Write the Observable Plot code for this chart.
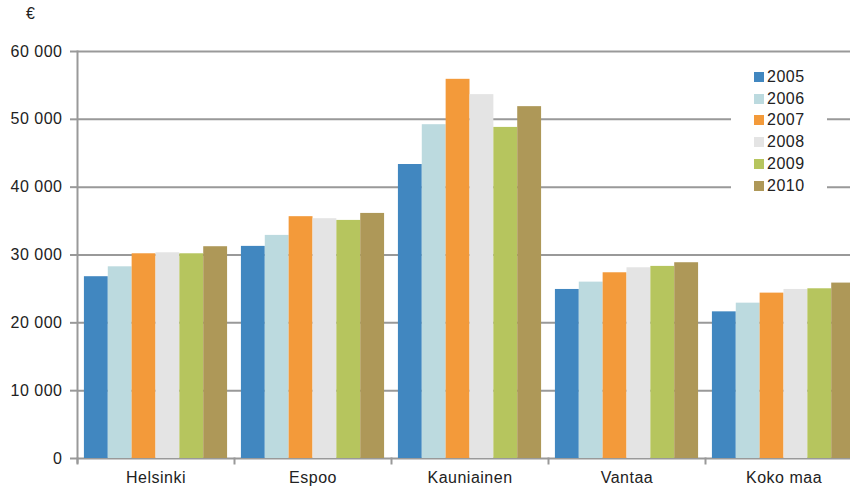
<!DOCTYPE html>
<html>
<head>
<meta charset="utf-8">
<script src="https://cdn.jsdelivr.net/npm/d3@7"></script>
<script src="https://cdn.jsdelivr.net/npm/@observablehq/plot@0.6"></script>
<style>
  html, body { margin: 0; padding: 0; background: #fff; overflow: hidden; }
  #wrap { position: relative; width: 850px; height: 486px; overflow: hidden; font-family: "Liberation Sans", Arial, sans-serif; }
  #euro { position: absolute; left: 26px; top: 5px; font-size: 16px; color: #222; }
  #legend { position: absolute; left: 731px; top: 65px; width: 96px; height: 132px; background: #fff; }
  .row { position: absolute; left: 0; height: 20px; font-size: 16px; letter-spacing: 0.5px; color: #222; display: flex; align-items: center; }
  .sw { width: 10px; height: 10px; margin-left: 23px; margin-right: 3px; }
</style>
</head>
<body>
<div id="wrap">
  <div id="chart"></div>
  <div id="euro">€</div>
  <div id="legend"></div>
</div>
<script>
const cities = ["Helsinki", "Espoo", "Kauniainen", "Vantaa", "Koko maa"];
const years = ["2005", "2006", "2007", "2008", "2009", "2010"];
const v2005 = [26800, 31270, 43340, 24920, 21620];
const v2006 = [28260, 32890, 49210, 26000, 22900];
const v2007 = [30180, 35650, 55900, 27380, 24380];
const v2008 = [30330, 35350, 53640, 28120, 24920];
const v2009 = [30180, 35100, 48810, 28320, 25020];
const v2010 = [31220, 36130, 51870, 28860, 25860];
const colors = ["#4187c0", "#bcdadf", "#f39a3a", "#e4e4e4", "#b6c55e", "#ae9858"];
const yTicks = [0, 10000, 20000, 30000, 40000, 50000, 60000];

const series = [v2005, v2006, v2007, v2008, v2009, v2010];
const data = cities.flatMap((c, i) => years.map((y, j) => ({city: c, year: y, value: series[j][i]})));

const fmt = d => d3.format(",")(d).replace(/,/g, " ");
const gridColor = "#999999";

const chart = Plot.plot({
  width: 862,
  height: 486,
  marginLeft: 77,
  marginRight: 0,
  marginTop: 51,
  marginBottom: 28,
  style: {maxWidth: "none", fontFamily: "Liberation Sans, Arial, sans-serif", fontSize: "16px", letterSpacing: "0.5px", color: "#222", background: "#fff"},
  fx: {domain: cities, padding: 0, round: false, label: null},
  x: {domain: years, paddingInner: 0, paddingOuter: 0.29, round: false, axis: null},
  y: {domain: [0, 60000], axis: null},
  color: {domain: years, range: colors},
  marks: [
    Plot.ruleY(yTicks, {stroke: gridColor, strokeWidth: 2}),
    Plot.barY(data, {fx: "city", x: "year", y: "value", fill: "year"}),
    Plot.frame({anchor: "left", stroke: gridColor, strokeWidth: 2, insetTop: 407, insetBottom: -5}),
    Plot.frame({anchor: "left", stroke: gridColor, strokeWidth: 2, insetBottom: -4, facetAnchor: "left"}),
    Plot.axisY({ticks: yTicks, tickFormat: fmt, tickSize: 7, tickPadding: 8, stroke: gridColor, strokeWidth: 2, fill: "#222", fontSize: 16, label: null}),
    Plot.axisFx({anchor: "bottom", tickSize: 0, tickPadding: 13, fill: "#222", fontSize: 16, label: null})
  ]
});
document.getElementById("chart").appendChild(chart);

const legend = document.getElementById("legend");
years.forEach((y, j) => {
  const row = document.createElement("div");
  row.className = "row";
  row.style.top = (2 + j * 21.7) + "px";
  const sw = document.createElement("span");
  sw.className = "sw";
  sw.style.background = colors[j];
  const t = document.createElement("span");
  t.textContent = y;
  row.appendChild(sw);
  row.appendChild(t);
  legend.appendChild(row);
});
</script>
</body>
</html>
